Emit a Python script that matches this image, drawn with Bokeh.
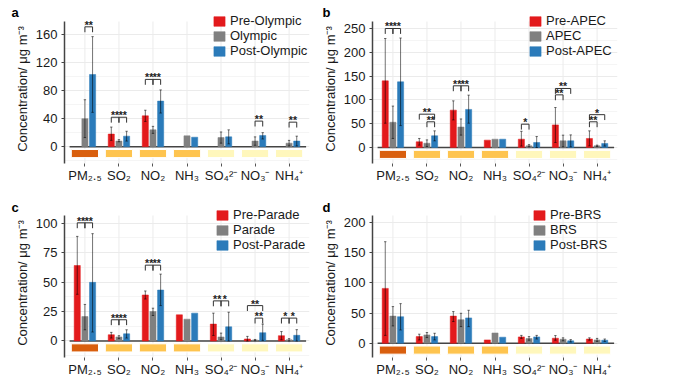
from bokeh.plotting import figure
from bokeh.models import ColumnDataSource, FixedTicker, Range1d, Legend, LegendItem, Title
from bokeh.layouts import gridplot
from bokeh.embed import file_html
from bokeh.resources import INLINE
from bokeh.core.properties import value

FONT = "Liberation Sans"
TXT = "#1a1a1a"

# ---------------- data ----------------
pollutants = ["PM2.5", "SO2", "NO2", "NH3", "SO4", "NO3", "NH4"]
tick_labels = ["PM₂.₅", "SO₂", "NO₂", "NH₃", "SO₄²⁻", "NO₃⁻", "NH₄⁺"]
pollutant_class = ["primary", "gas", "gas", "gas", "ion", "ion", "ion"]
group_colors = ["#E31A1C", "#808080", "#2B7BBA"]
class_colors = {"primary": "#D95F0E", "gas": "#FEC44F", "ion": "#FFF7BC"}

# panel a: Olympic
a_groups = ["Pre-Olympic", "Olympic", "Post-Olympic"]
a_pre = [None, 18, 44, None, None, None, None]
a_pre_lo = [None, 9, 36, None, None, None, None]
a_pre_hi = [None, 28, 52, None, None, None, None]
a_mid = [40, 8, 24, 15.5, 13, 8, 5]
a_mid_lo = [13, 7, 19, None, 5, 2, 1]
a_mid_hi = [67, 10, 29, None, 21, 14, 9]
a_post = [103, 15, 65, 13.5, 14, 16, 8]
a_post_lo = [49, 8, 48, None, 4, 11, 1]
a_post_hi = [157, 22, 81, None, 24, 20, 15]
a_sig_cat = [0, 1, 1, 2, 2, 5, 6]
a_sig_g1 = [1, 0, 1, 0, 1, 1, 1]
a_sig_g2 = [2, 1, 2, 1, 2, 2, 2]
a_sig_y = [171, 42, 42, 96, 96, 36.5, 35]
a_sig_lab = ["**", "**", "**", "**", "**", "**", "**"]

# panel b: APEC
b_groups = ["Pre-APEC", "APEC", "Post-APEC"]
b_pre = [140, 12, 78.5, 15.5, 17.5, 47.5, 19]
b_pre_lo = [51, 5, 58, None, 3, 10.5, 3.5]
b_pre_hi = [229, 19, 98, None, 34, 84, 35]
b_mid = [53, 9, 43, 17.5, 3.5, 14, 3.5]
b_mid_lo = [19, 2, 26, None, 1.5, 1.5, 2]
b_mid_hi = [87, 16, 60, None, 6, 26, 5]
b_post = [138, 24.5, 80, 17.5, 10.5, 14, 8.5]
b_post_lo = [46, 14, 51, None, 0, 1.5, 3]
b_post_hi = [230, 35, 110, None, 23, 26.5, 14]
b_sig_cat = [0, 0, 1, 1, 2, 2, 4, 5, 5, 6, 6]
b_sig_g1 = [0, 1, 0, 1, 0, 1, 0, 0, 0, 0, 0]
b_sig_g2 = [1, 2, 2, 2, 1, 2, 1, 2, 1, 2, 1]
b_sig_y = [250, 250, 70, 54, 129.6, 129.6, 49, 124, 110.6, 69, 54]
b_sig_lab = ["**", "**", "**", "**", "**", "**", "*", "**", "**", "*", "**"]

# panel c: Parade
c_groups = ["Pre-Parade", "Parade", "Post-Parade"]
c_pre = [64, 5.3, 39, 22.2, 14.3, 1.7, 4.5]
c_pre_lo = [39.6, 2.5, 35.6, None, 4.7, 0, 1]
c_pre_hi = [88.7, 7.3, 42.4, None, 23.6, 3.9, 8]
c_mid = [20.7, 3.4, 25, 18.5, 3.4, 0.8, 1]
c_mid_lo = [9.5, 2, 21.6, None, 1, 0.3, 0]
c_mid_hi = [31, 4.5, 27.8, None, 6.7, 1.3, 2]
c_post = [49.7, 6.1, 43.2, 23.6, 12, 7, 4.8]
c_post_lo = [7.6, 2.5, 30, None, 0, 0.5, 0]
c_post_hi = [91, 9.5, 56.7, None, 24.4, 14.3, 9.6]
c_sig_cat = [0, 0, 1, 1, 2, 2, 4, 4, 5, 5, 6, 6]
c_sig_g1 = [0, 1, 0, 1, 0, 1, 0, 1, 0, 1, 0, 1]
c_sig_g2 = [1, 2, 1, 2, 1, 2, 1, 2, 2, 2, 1, 2]
c_sig_y = [100.2, 100.2, 18, 18, 64.3, 64.3, 34, 34, 30, 19.4, 19.4, 19.4]
c_sig_lab = ["**", "**", "**", "**", "**", "**", "**", "*", "**", "**", "*", "*"]

# panel d: BRS
d_groups = ["Pre-BRS", "BRS", "Post-BRS"]
d_pre = [91, 11, 45, 5.5, 10.5, 8.3, 7]
d_pre_lo = [13, 5.5, 36, None, 8, 5, 5]
d_pre_hi = [168.5, 15, 52.5, None, 13, 12.7, 9]
d_mid = [45, 13.8, 39, 17, 7.7, 6.6, 5.5]
d_mid_lo = [28.7, 9.4, 27.6, None, 5, 4, 3]
d_mid_hi = [60.8, 17.7, 49.7, None, 11, 9, 8]
d_post = [44, 11, 42, 10, 10.5, 3.9, 5]
d_post_lo = [22, 5.5, 27.6, None, 7, 2, 3]
d_post_hi = [65.7, 16.5, 54.7, None, 13, 6, 7]
d_sig_cat, d_sig_g1, d_sig_g2, d_sig_y, d_sig_lab = [], [], [], [], []

y_label = "Concentration/ μg m⁻³"

OFFS = [-0.225, 0.0, 0.225]
BAR_W = 0.18
FRAME_W = 245
PANEL_H = 142      # height of the drawn panel (axis line extent)
EXTRA_TOP = 7      # extra frame pixels above the panel, room for the legend
FRAME_H = PANEL_H + EXTRA_TOP
LEGEND_H = 42


def panel(letter, groups, means, lows, highs, sig, yrange, yticks, yminor,
          width, height, left, top, bottom, legend_x, letter_off, letter_standoff):
    ymin, ymax = yrange
    span = ymax - ymin
    y_end = ymax + EXTRA_TOP * span / PANEL_H
    p = figure(width=width, height=height, x_range=Range1d(0.4, 7.6),
               y_range=Range1d(ymin, y_end), output_backend="svg",
               toolbar_location=None, min_border_left=left, min_border_right=7,
               min_border_top=top, min_border_bottom=bottom)
    p.outline_line_color = None
    p.background_fill_color = "white"

    cats = list(range(1, len(pollutants) + 1))
    # grids: horizontal from Bokeh, vertical drawn only over the panel extent
    p.xgrid.visible = False
    p.ygrid.ticker = FixedTicker(ticks=yticks, minor_ticks=yminor)
    p.ygrid.grid_line_color = "#EBEBEB"
    p.ygrid.minor_grid_line_color = "#F5F5F5"
    p.segment(x0=cats, y0=ymin, x1=cats, y1=ymax, line_color="#EBEBEB", line_width=1)

    # axes
    xa = p.xaxis[0]
    xa.ticker = FixedTicker(ticks=cats)
    xa.major_label_overrides = {c: t for c, t in zip(cats, tick_labels)}
    xa.axis_line_color = None
    xa.major_tick_line_color = "#555555"
    xa.major_tick_in = 0
    xa.major_tick_out = 3
    xa.minor_tick_line_color = None
    xa.major_label_standoff = 1
    xa.major_label_text_font = FONT
    xa.major_label_text_font_size = "13px"
    xa.major_label_text_color = TXT

    ya = p.yaxis[0]
    ya.ticker = FixedTicker(ticks=yticks, minor_ticks=yminor)
    ya.bounds = (ymin, ymax)
    ya.axis_line_color = "#444444"
    ya.axis_line_width = 1.5
    ya.major_tick_line_color = "#444444"
    ya.major_tick_in = 0
    ya.major_tick_out = 3
    ya.minor_tick_line_color = None
    ya.major_label_standoff = 3
    ya.major_label_text_font = FONT
    ya.major_label_text_font_size = "13px"
    ya.major_label_text_color = TXT
    ya.axis_label = y_label
    ya.axis_label_text_font = FONT
    ya.axis_label_text_font_size = "13px"
    ya.axis_label_text_font_style = "normal"
    ya.axis_label_text_color = TXT
    ya.axis_label_standoff = 3

    # class boxes under the zero line
    bx = ColumnDataSource(dict(
        left=[c - 0.4 for c in cats], right=[c + 0.4 for c in cats],
        color=[class_colors[k] for k in pollutant_class]))
    p.quad(left="left", right="right", top=-0.02 * span, bottom=-0.077 * span,
           fill_color="color", line_color="white", line_width=1, source=bx)

    # zero line
    p.segment(x0=0.55, y0=0, x1=7.5, y1=0, line_color="#444444", line_width=1.5)

    # bars and error bars
    renderers = []
    for g in range(3):
        xs, tops, exs, elo, ehi = [], [], [], [], []
        for i, m in enumerate(means[g]):
            if m is None:
                continue
            x = cats[i] + OFFS[g]
            xs.append(x)
            tops.append(m)
            if lows[g][i] is not None:
                exs.append(x)
                elo.append(lows[g][i])
                ehi.append(highs[g][i])
        r = p.vbar(x=xs, top=tops, bottom=0, width=BAR_W,
                   fill_color=group_colors[g], line_color=group_colors[g],
                   line_alpha=0.5, line_width=1)
        renderers.append(r)
        p.segment(x0=exs, y0=elo, x1=exs, y1=ehi, line_color="black",
                  line_alpha=0.55, line_width=1)
        cw = 0.035
        p.segment(x0=[x - cw for x in exs], y0=ehi, x1=[x + cw for x in exs],
                  y1=ehi, line_color="black", line_alpha=0.55, line_width=1)
        p.segment(x0=[x - cw for x in exs], y0=elo, x1=[x + cw for x in exs],
                  y1=elo, line_color="black", line_alpha=0.55, line_width=1)

    # significance brackets
    s_cat, s_g1, s_g2, s_y, s_lab = sig
    leg = 0.038 * span
    bxs, bys, tx, ty = [], [], [], []
    for c, g1, g2, y in zip(s_cat, s_g1, s_g2, s_y):
        x1 = cats[c] + OFFS[g1]
        x2 = cats[c] + OFFS[g2]
        bxs.append([x1, x1, x2, x2])
        bys.append([y - leg, y, y, y - leg])
        tx.append((x1 + x2) / 2)
        ty.append(y)
    if bxs:
        p.multi_line(xs=bxs, ys=bys, line_color="#333333", line_width=1)
        p.text(x=tx, y=ty, text=s_lab, text_align="center",
               text_baseline="alphabetic", y_offset=-2,
               text_font=value(FONT), text_font_size="10.5px",
               text_font_style="bold", text_color="#222222")

    # legend (location = bottom-left corner, px from frame bottom-left)
    items = [LegendItem(label=g, renderers=[r]) for g, r in zip(groups, renderers)]
    lg = Legend(items=items, location=(legend_x, FRAME_H - LEGEND_H - 2),
                orientation="vertical",
                margin=0, padding=0, spacing=-4, glyph_width=14, glyph_height=12,
                label_height=12, label_standoff=4, label_text_font=FONT,
                label_text_font_size="13px", label_text_color=TXT,
                background_fill_alpha=0, border_line_alpha=0)
    p.add_layout(lg)

    # panel letter as a left-shifted title
    p.add_layout(Title(text=letter, align="left", offset=letter_off,
                       standoff=letter_standoff, text_font=FONT,
                       text_font_size="13px", text_font_style="bold",
                       text_color="black"), "above")
    return p


pa = panel("a", a_groups, [a_pre, a_mid, a_post], [a_pre_lo, a_mid_lo, a_post_lo],
           [a_pre_hi, a_mid_hi, a_post_hi],
           (a_sig_cat, a_sig_g1, a_sig_g2, a_sig_y, a_sig_lab),
           (-24, 178.6), [0, 40, 80, 120, 160], [-20, 20, 60, 100, 140],
           316, 197, 64, 14, 34, 148, -53, -10)
pb = panel("b", b_groups, [b_pre, b_mid, b_post], [b_pre_lo, b_mid_lo, b_post_lo],
           [b_pre_hi, b_mid_hi, b_post_hi],
           (b_sig_cat, b_sig_g1, b_sig_g2, b_sig_y, b_sig_lab),
           (-33.6, 264.7), [0, 50, 100, 150, 200, 250], [-25, 25, 75, 125, 175, 225],
           308, 197, 56, 14, 34, 156, -50, -10)
pc = panel("c", c_groups, [c_pre, c_mid, c_post], [c_pre_lo, c_mid_lo, c_post_lo],
           [c_pre_hi, c_mid_hi, c_post_hi],
           (c_sig_cat, c_sig_g1, c_sig_g2, c_sig_y, c_sig_lab),
           (-14, 106.4), [0, 25, 50, 75, 100], [-12.5, 12.5, 37.5, 62.5, 87.5],
           316, 185, 64, 11, 25, 151, -53, -12)
pd_ = panel("d", d_groups, [d_pre, d_mid, d_post], [d_pre_lo, d_mid_lo, d_post_lo],
            [d_pre_hi, d_mid_hi, d_post_hi],
            (d_sig_cat, d_sig_g1, d_sig_g2, d_sig_y, d_sig_lab),
            (-23.7, 212), [0, 50, 100, 150, 200], [-25, 25, 75, 125, 175],
            308, 185, 56, 11, 25, 160, -50, -12)

grid = gridplot([[pa, pb], [pc, pd_]], toolbar_location=None)
open("out.html", "w").write(file_html(grid, INLINE))
